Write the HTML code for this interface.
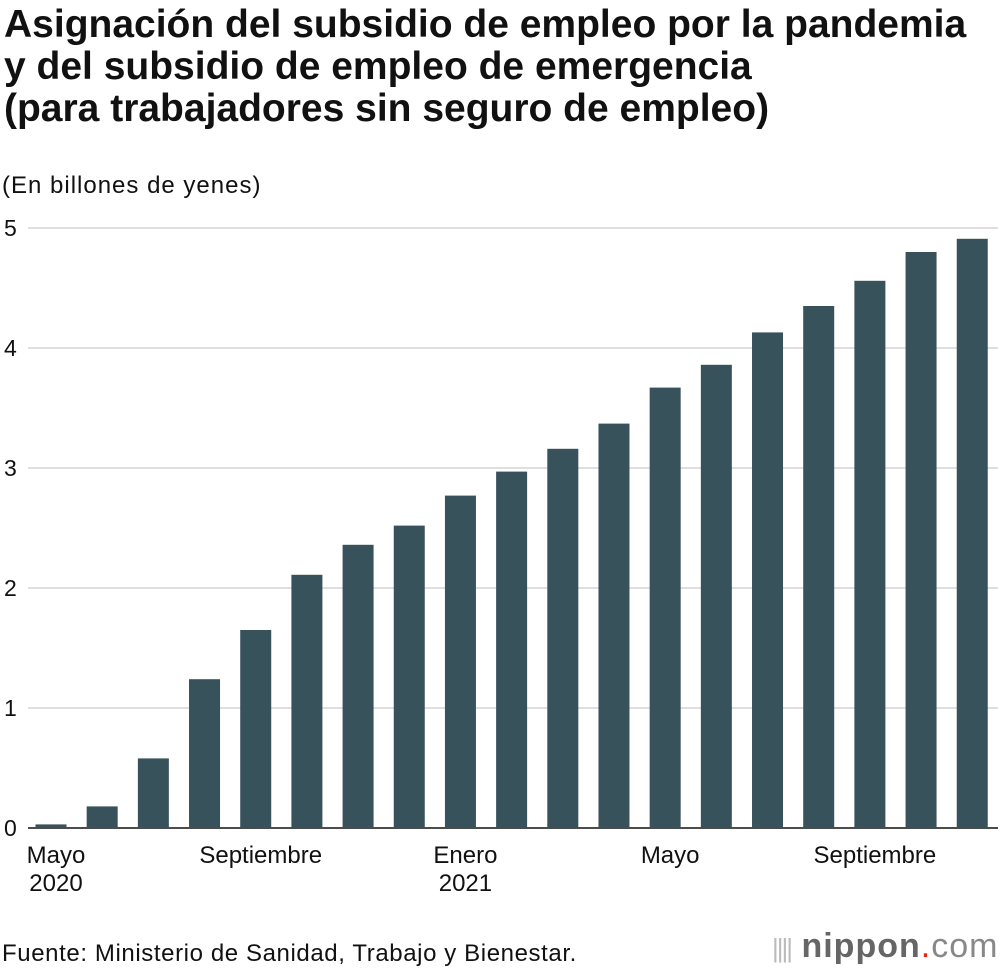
<!DOCTYPE html>
<html><head><meta charset="utf-8"><style>
body{margin:0;background:#fff;width:1000px;height:972px;overflow:hidden;font-family:"Liberation Sans",sans-serif;}
#t{position:absolute;left:4px;top:4px;font-size:39px;font-weight:bold;line-height:42px;color:#111;letter-spacing:0px;white-space:nowrap}
#u{position:absolute;left:2px;top:172px;font-size:24px;color:#111;letter-spacing:1px}
#src{position:absolute;left:2px;top:940px;font-size:24px;color:#111;letter-spacing:0.6px}
#logo{position:absolute;left:772px;top:927px;font-size:34px;color:#666;letter-spacing:1px}
</style></head><body>
<div id="t">Asignación del subsidio de empleo por la pandemia<br>y del subsidio de empleo de emergencia<br>(para trabajadores sin seguro de empleo)</div>
<div id="u">(En billones de yenes)</div>
<svg id="c" width="1000" height="972" style="position:absolute;left:0;top:0"></svg>
<div id="src">Fuente: Ministerio de Sanidad, Trabajo y Bienestar.</div>
<div id="logo"><span style="font-size:26px;color:#bbb;letter-spacing:-2px">||||</span> <b style="color:#666">nippon</b><span style="color:#e21">.</span><span style="color:#888">com</span></div>
<script>
const categories=["2020-05","2020-06","2020-07","2020-08","2020-09","2020-10","2020-11","2020-12","2021-01","2021-02","2021-03","2021-04","2021-05","2021-06","2021-07","2021-08","2021-09","2021-10","2021-11"];
const values=[0.03,0.18,0.58,1.24,1.65,2.11,2.36,2.52,2.77,2.97,3.16,3.37,3.67,3.86,4.13,4.35,4.56,4.80,4.91];
const yTicks=[0,1,2,3,4,5];
const xLabels=[[0,"Mayo","2020"],[4,"Septiembre",""],[8,"Enero","2021"],[12,"Mayo",""],[16,"Septiembre",""]];
const svg=document.getElementById('c');const NS="http://www.w3.org/2000/svg";
const y=v=>828-v*120;const x=i=>51+i*51.18;
function mk(t,a){const e=document.createElementNS(NS,t);for(const k in a)e.setAttribute(k,a[k]);svg.appendChild(e);return e;}
yTicks.forEach(v=>{
 const l=mk('line',{x1:28,x2:998,y1:y(v),y2:y(v),stroke:v?'#ccc':'#111','stroke-width':v?1.3:1.5});
 
 
 const t=mk('text',{x:4,y:y(v)+8,'font-size':23,fill:'#111'});t.textContent=v;
 
 
});
values.forEach((v,i)=>{
 const r=mk('rect',{x:x(i)-15.5,y:y(v),width:31,height:y(0)-y(v),fill:'#37525a'});
 
 
});
xLabels.forEach(([i,a,b])=>{
 const t=mk('text',{x:x(i)+5,y:863,'font-size':24,fill:'#111','text-anchor':'middle'});t.textContent=a;
 
 
 if(b){const t2=mk('text',{x:x(i)+5,y:891,'font-size':24,fill:'#111','text-anchor':'middle'});t2.textContent=b;
 
 }
});
</script>
</body></html>
